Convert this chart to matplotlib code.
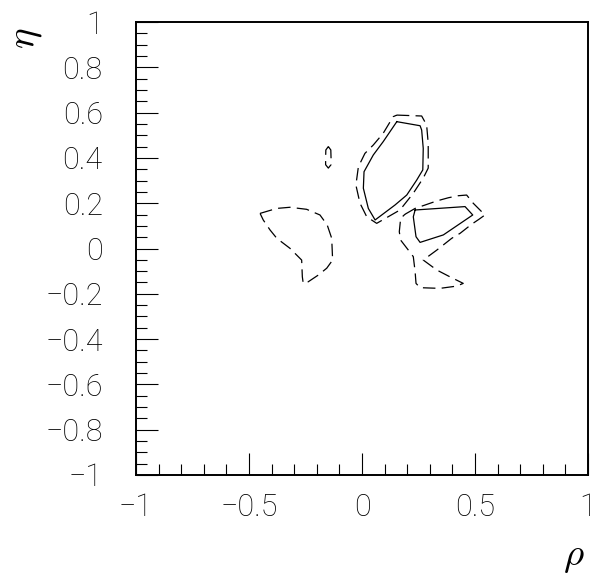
import matplotlib
matplotlib.use('Agg')
import matplotlib.pyplot as plt
import numpy as np

# contour lines (rho, eta)
big_solid_rho = [0.154, 0.257, 0.264, 0.271, 0.269, 0.242, 0.198, 0.146, 0.058, 0.028, 0.006, 0.009, 0.050, 0.094]
big_solid_eta = [0.560, 0.542, 0.523, 0.442, 0.347, 0.302, 0.236, 0.192, 0.126, 0.177, 0.266, 0.339, 0.413, 0.472]

big_dash_rho = [0.154, 0.264, 0.286, 0.293, 0.293, 0.271, 0.227, 0.168, 0.065, 0.021, -0.009, -0.027, -0.016, 0.013, 0.050, 0.094, 0.138]
big_dash_eta = [0.589, 0.585, 0.545, 0.464, 0.355, 0.311, 0.244, 0.170, 0.111, 0.140, 0.200, 0.280, 0.361, 0.420, 0.457, 0.509, 0.582]

right_solid_rho = [0.235, 0.456, 0.490, 0.360, 0.257, 0.239, 0.227]
right_solid_eta = [0.170, 0.185, 0.148, 0.060, 0.027, 0.052, 0.140]

right_dash_rho = [0.190, 0.235, 0.279, 0.331, 0.382, 0.426, 0.463, 0.492, 0.544, 0.519, 0.485, 0.434, 0.397,
                  0.331, 0.271, 0.331, 0.389, 0.448, 0.419, 0.345, 0.257, 0.239, 0.235, 0.227, 0.205,
                  0.171, 0.165, 0.171]
right_dash_eta = [0.151, 0.177, 0.192, 0.210, 0.224, 0.233, 0.236, 0.200, 0.148, 0.130, 0.107, 0.067, 0.045,
                  -0.007, -0.051, -0.095, -0.125, -0.154, -0.166, -0.176, -0.173, -0.154, -0.102, -0.036, -0.007,
                  0.037, 0.074, 0.133]

left_dash_rho = [-0.451, -0.377, -0.319, -0.245, -0.186, -0.154, -0.134, -0.130, -0.156, -0.193, -0.238, -0.260,
                 -0.264, -0.267, -0.289, -0.319, -0.377, -0.407, -0.437]
left_dash_eta = [0.155, 0.177, 0.182, 0.173, 0.148, 0.104, 0.045, -0.051, -0.087, -0.117, -0.147, -0.154,
                 -0.125, -0.051, -0.029, 0.001, 0.045, 0.082, 0.126]

small_dash_rho = [-0.149, -0.138, -0.137, -0.137, -0.149, -0.161, -0.161, -0.160]
small_dash_eta = [0.450, 0.435, 0.400, 0.370, 0.355, 0.370, 0.400, 0.435]

xticks = [-1, -0.5, 0, 0.5, 1]
xticklabels = ['\u22121', '\u22120.5', '0', '0.5', '1']
yticks = [-1, -0.8, -0.6, -0.4, -0.2, 0, 0.2, 0.4, 0.6, 0.8, 1]
yticklabels = ['\u22121', '\u22120.8', '\u22120.6', '\u22120.4', '\u22120.2', '0', '0.2', '0.4', '0.6', '0.8', '1']

plt.rcParams['font.family'] = ['Roboto', 'DejaVu Sans']
plt.rcParams['font.weight'] = 'light'
plt.rcParams['mathtext.fontset'] = 'cm'

fig = plt.figure(figsize=(5.94, 5.77), dpi=100)
ax = fig.add_axes([136/594, 1 - 475/577, 452/594, 453/577])


def closed(xs, ys):
    return list(xs) + [xs[0]], list(ys) + [ys[0]]


for xs, ys in [(big_solid_rho, big_solid_eta), (right_solid_rho, right_solid_eta)]:
    cx, cy = closed(xs, ys)
    ax.plot(cx, cy, color='black', lw=0.9)

for xs, ys in [(big_dash_rho, big_dash_eta), (right_dash_rho, right_dash_eta),
               (left_dash_rho, left_dash_eta), (small_dash_rho, small_dash_eta)]:
    cx, cy = closed(xs, ys)
    ax.plot(cx, cy, color='black', lw=0.9, dashes=(10, 5))

ax.set_xlim(-1, 1)
ax.set_ylim(-1, 1)

ax.set_xticks(xticks)
ax.set_xticklabels(xticklabels)
ax.set_xticks(np.arange(-1, 1.001, 0.1), minor=True)
ax.set_yticks(yticks)
ax.set_yticklabels(yticklabels)
ax.set_yticks(np.arange(-1, 1.001, 0.05), minor=True)

ax.tick_params(which='both', direction='in', top=False, right=False, width=0.8, labelsize=22)
ax.tick_params(which='major', length=16)
ax.tick_params(which='minor', length=8)
ax.tick_params(axis='x', pad=13)
ax.tick_params(axis='y', pad=24)

for s in ax.spines.values():
    s.set_linewidth(1.4)

fig.text(574/594, 1 - 556/577, r'$\rho$', fontsize=28, ha='center', va='center')
fig.text(25/594, 1 - 38/577, r'$\eta$', fontsize=28, ha='center', va='center', rotation=90)

fig.savefig('out.png', dpi=100)
